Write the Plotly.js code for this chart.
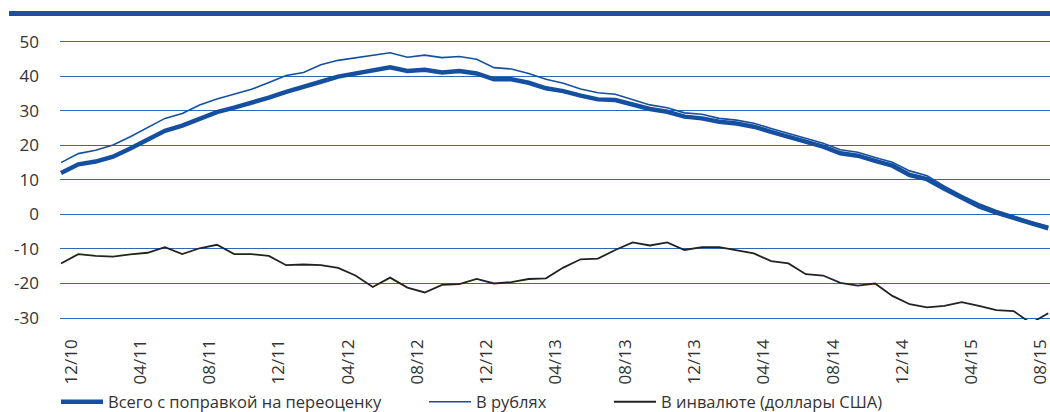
<!DOCTYPE html>
<html>
<head>
<meta charset="utf-8">
<script src="https://cdn.plot.ly/plotly-3.0.1.min.js"></script>
<style>html,body{margin:0;padding:0;background:#fff;}#chart{width:1050px;height:412px;}</style>
</head>
<body>
<div id="chart"></div>
<script>
// Monthly categories (Dec 2010 .. Sep 2015)
const months = [
  "12/10","01/11","02/11","03/11","04/11","05/11","06/11","07/11","08/11","09/11","10/11","11/11",
  "12/11","01/12","02/12","03/12","04/12","05/12","06/12","07/12","08/12","09/12","10/12","11/12",
  "12/12","01/13","02/13","03/13","04/13","05/13","06/13","07/13","08/13","09/13","10/13","11/13",
  "12/13","01/14","02/14","03/14","04/14","05/14","06/14","07/14","08/14","09/14","10/14","11/14",
  "12/14","01/15","02/15","03/15","04/15","05/15","06/15","07/15","08/15","09/15"
];
const xTickLabels = ["12/10","04/11","08/11","12/11","04/12","08/12","12/12","04/13","08/13","12/13","04/14","08/14","12/14","04/15","08/15"];

// Total, adjusted for revaluation
const totalAdj = [
  12.0, 14.5, 15.3, 16.7, 19.1, 21.8, 24.2, 25.7, 27.8, 29.6, 30.9, 32.2, 33.8, 35.5, 36.8, 38.4, 39.9, 40.8, 41.5, 42.6,
  41.5, 41.9, 41.1, 41.5, 40.8, 39.1, 39.1, 38.1, 36.5, 35.7, 34.4, 33.3, 33.1, 31.9, 30.5, 29.7, 28.3, 27.8, 26.8,
  26.3, 25.4, 23.9, 22.5, 21.0, 19.6, 17.7, 17.0, 15.5, 14.1, 11.4, 10.2, 7.4, 4.7, 2.3, 0.5, -1.1, -2.7, -4.0
];
// In rubles
const rubles = [
  15.0, 17.6, 18.6, 20.1, 22.5, 25.1, 27.8, 29.2, 31.7, 33.4, 34.9, 36.2, 38.2, 40.2, 41.1, 43.3, 44.6, 45.4, 46.1, 46.8,
  45.5, 46.1, 45.4, 45.7, 44.9, 42.5, 42.1, 40.8, 39.1, 38.0, 36.3, 35.2, 34.8, 33.3, 31.7, 30.9, 29.4, 29.0, 27.8,
  27.3, 26.4, 24.9, 23.5, 22.0, 20.6, 18.7, 18.0, 16.5, 15.1, 12.6, 11.2, 8.2, 5.5, 3.1, 1.1, -0.5, -2.1, -3.4
];
// In foreign currency (USD)
const fx = [
  -14.2, -11.5, -12.0, -12.2, -11.6, -11.1, -9.5, -11.5, -9.8, -8.8, -11.5, -11.5, -12.0, -14.7, -14.5, -14.7, -15.5, -17.7, -21.0, -18.3,
  -21.2, -22.6, -20.4, -20.2, -18.7, -20.0, -19.6, -18.7, -18.5, -15.4, -13.0, -12.8, -10.3, -8.1, -9.0, -8.1, -10.3, -9.5, -9.5,
  -10.3, -11.3, -13.5, -14.2, -17.3, -17.7, -19.8, -20.6, -20.0, -23.6, -26.0, -26.9, -26.5, -25.4, -26.5, -27.7, -28.0, -31.5, -28.6
];
const yTickVals = [-30, -20, -10, 0, 10, 20, 30, 40, 50];
const yTickLabels = ["-30", "-20", "-10", "0", "10", "20", "30", "40", "50"];
const seriesNames = ["Всего с поправкой на переоценку", "В рублях", "В инвалюте (доллары США)"];

const FONT = "'Open Sans', 'Noto Sans', sans-serif";
const BLUE = "#1550a0";
const TXT = "#333333";

const xTickVals = xTickLabels.map(l => months.indexOf(l));
const xIdx = months.map((m, i) => i);

const traces = [
  {x: xIdx, y: totalAdj, type: "scatter", mode: "lines", name: seriesNames[0],
   line: {color: BLUE, width: 4.5}, legend: "legend", hoverinfo: "skip"},
  {x: xIdx, y: rubles, type: "scatter", mode: "lines", name: seriesNames[1],
   line: {color: BLUE, width: 1.6}, legend: "legend2", hoverinfo: "skip"},
  {x: xIdx, y: fx, type: "scatter", mode: "lines", name: seriesNames[2],
   line: {color: "#222222", width: 1.8}, legend: "legend3", hoverinfo: "skip"}
];

const W = 1050, H = 412, PT = 38, PB = 92;
const plotH = H - PT - PB;
function py(pix) { return (H - PB - pix) / plotH; }
function px(pix) { return (pix - 60) / 990; }
function cy(pix) { return 1 - pix / H; }
function cx(pix) { return pix / W; }

const legendCommon = {orientation: "h", xanchor: "left", yanchor: "middle", xref: "container", yref: "container",
  bgcolor: "rgba(0,0,0,0)", font: {family: FONT, size: 16.5, color: TXT}, itemwidth: 42, tracegroupgap: 0};

const layout = {
  width: W, height: H,
  margin: {l: 60, r: 0, t: PT, b: PB, pad: 0, autoexpand: false},
  paper_bgcolor: "#ffffff", plot_bgcolor: "#ffffff",
  font: {family: FONT, color: TXT},
  showlegend: true,
  xaxis: {
    type: "linear",
    range: [-0.058, 57.1],
    tickmode: "array", tickvals: xTickVals, ticktext: xTickLabels,
    tickangle: -90, ticklabelshift: 10, ticklabelstandoff: 15, ticklabeloverflow: "allow",
    tickfont: {family: FONT, size: 17, color: TXT},
    showgrid: false, zeroline: false, showline: false, ticks: "", automargin: false
  },
  yaxis: {
    range: [-30.57, 51.07],
    tickmode: "array", tickvals: yTickVals, ticktext: yTickLabels,
    tickfont: {family: FONT, size: 17, color: TXT},
    showgrid: true, gridcolor: "#2d68b2", gridwidth: 1,
    zeroline: false, showline: false, ticks: "", ticklabelstandoff: 20, automargin: false
  },
  legend: Object.assign({}, legendCommon, {x: cx(56), y: cy(402)}),
  legend2: Object.assign({}, legendCommon, {x: cx(424), y: cy(402)}),
  legend3: Object.assign({}, legendCommon, {x: cx(609), y: cy(402)}),
  shapes: [
    {type: "line", xref: "paper", yref: "paper", x0: px(9), x1: 1.0, y0: py(13.5), y1: py(13.5),
     line: {color: "#1a52a0", width: 5}}
  ]
};

Plotly.newPlot("chart", traces, layout, {staticPlot: true, displayModeBar: false});
</script>
</body>
</html>
